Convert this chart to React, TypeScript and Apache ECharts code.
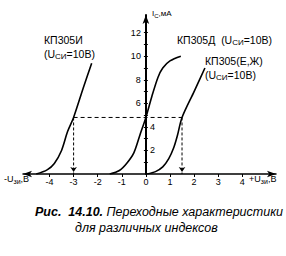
import React, { useEffect, useRef } from "react";
import * as echarts from "echarts";

// Data
const xTicks = [-4, -3, -2, -1, 0, 1, 2, 3, 4];
const yTicksMinor = [1, 2, 3, 4, 5, 6, 7, 8, 9, 10, 11, 12];
const yLabelsLeft = [6, 8, 10, 12];
const yLabelsRight = [2, 4];

const curveI_U = [-4.55, -4.1, -3.8, -3.5, -3.25, -3.0, -2.6, -2.25];
const curveI_I = [0, 0.35, 0.9, 2.0, 3.6, 4.8, 7.3, 9.4];

const curveD_U = [-1.5, -1.1, -0.8, -0.5, -0.25, 0, 0.25, 0.5, 0.7, 1.0, 1.45];
const curveD_I = [0, 0.3, 0.9, 1.8, 3.3, 4.8, 6.6, 8.2, 9.0, 9.6, 10.0];

const curveE_U = [0.05, 0.4, 0.7, 0.95, 1.15, 1.3, 1.5, 2.0, 2.45];
const curveE_I = [0, 0.2, 0.6, 1.3, 2.2, 3.2, 4.8, 7.0, 9.0];

const refCurrent = 4.8;
const refU = [-3, 1.5];

const X_MIN = -5.1;
const X_MAX = 5.4;

const FONT = "Liberation Sans, Arial, sans-serif";

const zip = (u: number[], i: number[]) => u.map((v, k) => [v, i[k]]);

export default function App() {
  const ref = useRef<HTMLDivElement>(null);
  useEffect(() => {
    if (!ref.current) return;
    const chart = echarts.init(ref.current, null, { renderer: "svg" });
    const W = 286;
    const gridLeft = 23;
    const gridRight = 10;
    const gw = W - gridLeft - gridRight;
    const zeroPx = (gw * (0 - X_MIN)) / (X_MAX - X_MIN);
    const curveStyle = { color: "#000", width: 1.6 };
    const dashStyle = { color: "#000", width: 1, type: [4, 3] as any };
    const vdash = (u: number) => ({
      type: "line",
      data: [
        { value: [u, refCurrent], symbol: "none" },
        { value: [u, 0], symbol: "arrow", symbolSize: [5, 5], symbolRotate: 180, symbolOffset: [0, -2] },
      ],
      lineStyle: { color: "#000", width: 1, type: [3, 2] as any },
      itemStyle: { color: "#000" },
      showSymbol: true,
      silent: true,
    });
    const richBase = {
      n: { fontSize: 10.5, lineHeight: 14, fontFamily: FONT, color: "#000" },
      s: { fontSize: 8, lineHeight: 8, verticalAlign: "bottom", fontFamily: FONT, color: "#000" },
    };
    const richAxis = {
      n: { fontSize: 9, lineHeight: 12, fontFamily: FONT, color: "#000" },
      s: { fontSize: 7, lineHeight: 7, verticalAlign: "bottom", fontFamily: FONT, color: "#000" },
    };
    chart.setOption({
      animation: false,
      backgroundColor: "#fff",
      grid: { left: gridLeft, right: gridRight, top: 15, bottom: 82, containLabel: false },
      xAxis: {
        type: "value",
        min: X_MIN,
        max: X_MAX,
        axisLine: {
          onZero: true,
          lineStyle: { color: "#000", width: 1.5 },
          symbol: ["arrow", "arrow"],
          symbolSize: [5, 9],
        },
        axisTick: { show: true, customValues: xTicks, length: 3, inside: false, lineStyle: { color: "#000" } },
        axisLabel: {
          customValues: xTicks,
          fontSize: 9,
          fontFamily: FONT,
          color: "#000",
          margin: 3,
        },
        splitLine: { show: false },
      },
      yAxis: [
        {
          type: "value",
          min: 0,
          max: 13.5,
          position: "left",
          offset: -zeroPx,
          axisLine: {
            onZero: false,
            lineStyle: { color: "#000", width: 2 },
            symbol: ["none", "arrow"],
            symbolSize: [5, 9],
          },
          axisTick: { show: true, customValues: yTicksMinor, length: 2, lineStyle: { color: "#000" } },
          axisLabel: { customValues: yLabelsLeft, fontSize: 9, fontFamily: FONT, color: "#000", margin: 5 },
          splitLine: { show: false },
        },
        {
          type: "value",
          min: 0,
          max: 13.5,
          position: "right",
          offset: -(gw - zeroPx),
          axisLine: { show: false, onZero: false },
          axisTick: { show: true, customValues: yTicksMinor, length: 2, lineStyle: { color: "#000" } },
          axisLabel: { customValues: yLabelsRight, fontSize: 9, fontFamily: FONT, color: "#000", margin: 4 },
          splitLine: { show: false },
        },
      ],
      series: [
        { type: "line", data: zip(curveI_U, curveI_I), smooth: 0.3, showSymbol: false, lineStyle: curveStyle },
        { type: "line", data: zip(curveD_U, curveD_I), smooth: 0.3, showSymbol: false, lineStyle: curveStyle },
        { type: "line", data: zip(curveE_U, curveE_I), smooth: 0.3, showSymbol: false, lineStyle: curveStyle },
        {
          type: "line",
          data: [
            [refU[0], refCurrent],
            [refU[1], refCurrent],
          ],
          showSymbol: false,
          lineStyle: dashStyle,
        },
        vdash(refU[0]),
        vdash(refU[1]),
      ],
      graphic: [
        {
          type: "text",
          left: 44,
          top: 34,
          style: { text: "{n|КП305И}\n{n|(U}{s|СИ}{n|=10В)}", rich: richBase },
        },
        {
          type: "text",
          left: 177,
          top: 34,
          style: { text: "{n|КП305Д  (U}{s|СИ}{n|=10В)}", rich: richBase },
        },
        {
          type: "text",
          left: 205,
          top: 55,
          style: { text: "{n|КП305(Е,Ж)}\n{n|(U}{s|СИ}{n|=10В)}", rich: richBase },
        },
        {
          type: "text",
          left: 152,
          top: 9,
          style: {
            text: "{n|I}{s|С}{n|,мА}",
            rich: {
              n: { fontSize: 8, lineHeight: 11, fontFamily: FONT, color: "#000" },
              s: { fontSize: 6, lineHeight: 6, verticalAlign: "bottom", fontFamily: FONT, color: "#000" },
            },
          },
        },
        {
          type: "text",
          left: 4,
          top: 174,
          style: { text: "{n|-U}{s|зи}{n|,В}", rich: richAxis },
        },
        {
          type: "text",
          left: 249,
          top: 174,
          style: { text: "{n|+U}{s|зи}{n|,В}", rich: richAxis },
        },
        {
          type: "text",
          left: 35,
          top: 205,
          style: {
            text: "{b|Рис.  14.10.} {i|Переходные характеристики}\n{sp|}{i|для различных индексов}",
            rich: {
              b: { fontSize: 12.5, fontWeight: "bold", fontStyle: "italic", fontFamily: FONT, color: "#000", lineHeight: 16 },
              i: { fontSize: 12.5, fontStyle: "italic", fontFamily: FONT, color: "#000", lineHeight: 16 },
              sp: { width: 40, lineHeight: 16 },
            },
          },
        },
      ],
    });
    return () => chart.dispose();
  }, []);
  return (
    <div
      ref={ref}
      style={{ position: "fixed", left: 0, top: 0, width: 286, height: 256 }}
    />
  );
}
